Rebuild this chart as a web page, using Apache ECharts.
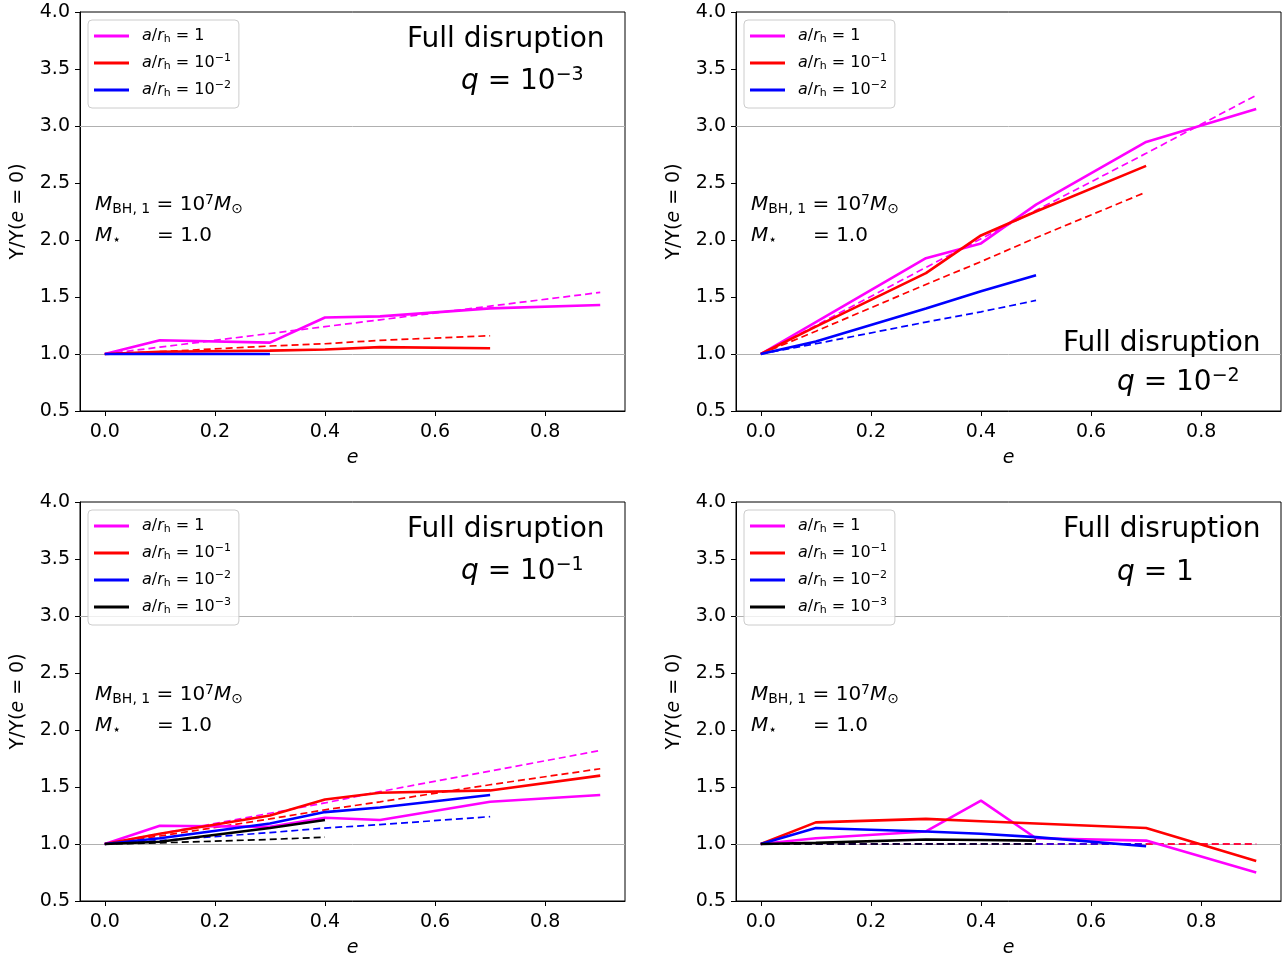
<!DOCTYPE html>
<html>
<head>
<meta charset="utf-8">
<script src="https://cdn.jsdelivr.net/npm/echarts@6/dist/echarts.min.js"></script>
<style>
html,body{margin:0;padding:0;background:#fff;}
#main{width:1288px;height:963px;}
</style>
</head>
<body>
<div id="main"></div>
<script>
// ---------- DATA ----------
var eVals = [0.0, 0.1, 0.3, 0.4, 0.5, 0.7, 0.9];
var xTicks = [0.0, 0.2, 0.4, 0.6, 0.8];
var refLines = [1.0, 3.0];
var rhNames = ['a/r_h = 1', 'a/r_h = 10^-1', 'a/r_h = 10^-2', 'a/r_h = 10^-3'];
var qLabels = ['10^-3', '10^-2', '10^-1', '1'];

// panel 1: q = 1e-3
var q3Solid1 = [1.00, 1.12, 1.10, 1.32, 1.33, 1.40, 1.43];
var q3Solid2 = [1.00, 1.02, 1.03, 1.04, 1.06, 1.05];
var q3Solid3 = [1.00, 1.00, 1.00];
var q3Dash1  = [1.00, 1.06, 1.18, 1.24, 1.30, 1.42, 1.54];
var q3Dash2  = [1.00, 1.02, 1.07, 1.09, 1.12, 1.16];
var q3Dash3  = [1.00, 1.00, 1.00];

// panel 2: q = 1e-2
var q2Solid1 = [1.00, 1.28, 1.84, 1.97, 2.31, 2.86, 3.15];
var q2Solid2 = [1.00, 1.24, 1.71, 2.04, 2.25, 2.65];
var q2Solid3 = [1.00, 1.11, 1.40, 1.55, 1.69];
var q2Dash1  = [1.00, 1.25, 1.76, 2.01, 2.26, 2.76, 3.27];
var q2Dash2  = [1.00, 1.20, 1.61, 1.81, 2.02, 2.42];
var q2Dash3  = [1.00, 1.09, 1.28, 1.37, 1.47];

// panel 3: q = 1e-1
var q1Solid1 = [1.00, 1.16, 1.15, 1.23, 1.21, 1.37, 1.43];
var q1Solid2 = [1.00, 1.09, 1.25, 1.39, 1.45, 1.47, 1.60];
var q1Solid3 = [1.00, 1.05, 1.18, 1.28, 1.32, 1.43];
var q1Solid4 = [1.00, 1.02, 1.14, 1.21];
var q1Dash1  = [1.00, 1.09, 1.27, 1.36, 1.46, 1.64, 1.82];
var q1Dash2  = [1.00, 1.07, 1.22, 1.30, 1.37, 1.52, 1.66];
var q1Dash3  = [1.00, 1.03, 1.10, 1.14, 1.17, 1.24];
var q1Dash4  = [1.00, 1.01, 1.04, 1.06];

// panel 4: q = 1
var q0Solid1 = [1.00, 1.05, 1.11, 1.38, 1.05, 1.03, 0.75];
var q0Solid2 = [1.00, 1.19, 1.22, 1.20, 1.18, 1.14, 0.85];
var q0Solid3 = [1.00, 1.14, 1.11, 1.09, 1.06, 0.98];
var q0Solid4 = [1.00, 1.01, 1.04, 1.035, 1.03];
var q0Dash1  = [1.00, 1.00, 1.00, 1.00, 1.00, 1.00, 1.00];
var q0Dash2  = [1.00, 1.00, 1.00, 1.00, 1.00, 1.00, 1.00];
var q0Dash3  = [1.00, 1.00, 1.00, 1.00, 1.00, 1.00];
var q0Dash4  = [1.00, 1.00, 1.00, 1.00, 1.00];

// ---------- STYLE / LAYOUT ----------
var FONT = 'DejaVu Sans';
var colors = ['#ff00ff', '#ff0000', '#0000ff', '#000000'];
var grids = [
  {left: 80,  top: 12,  width: 545, height: 399},
  {left: 736, top: 12,  width: 545, height: 399},
  {left: 80,  top: 502, width: 545, height: 399},
  {left: 736, top: 502, width: 545, height: 399}
];
var panels = [
  {solid: [q3Solid1, q3Solid2, q3Solid3], dash: [q3Dash1, q3Dash2, q3Dash3]},
  {solid: [q2Solid1, q2Solid2, q2Solid3], dash: [q2Dash1, q2Dash2, q2Dash3]},
  {solid: [q1Solid1, q1Solid2, q1Solid3, q1Solid4], dash: [q1Dash1, q1Dash2, q1Dash3, q1Dash4]},
  {solid: [q0Solid1, q0Solid2, q0Solid3, q0Solid4], dash: [q0Dash1, q0Dash2, q0Dash3, q0Dash4]}
];

var legendRich = {
  pad: {width: 8},
  i: {fontFamily: FONT, fontStyle: 'italic', fontSize: 16, color: '#000'},
  n: {fontFamily: FONT, fontSize: 16, color: '#000'},
  sb: {fontFamily: FONT, fontSize: 11, color: '#000', padding: [7, 0, 0, 0]},
  sp: {fontFamily: FONT, fontSize: 11, color: '#000', padding: [0, 0, 9, 0]}
};
var legendText = {
  'a/r_h = 1':     '{pad|}{i|a}{n|/}{i|r}{sb|h}{n| = 1}',
  'a/r_h = 10^-1': '{pad|}{i|a}{n|/}{i|r}{sb|h}{n| = 10}{sp|\u22121}',
  'a/r_h = 10^-2': '{pad|}{i|a}{n|/}{i|r}{sb|h}{n| = 10}{sp|\u22122}',
  'a/r_h = 10^-3': '{pad|}{i|a}{n|/}{i|r}{sb|h}{n| = 10}{sp|\u22123}'
};

var xAxes = [], yAxes = [], series = [], legends = [], graphics = [];

grids.forEach(function (g, p) {
  xAxes.push({
    type: 'value', gridIndex: p, min: -0.045, max: 0.945,
    name: '{i|e}', nameLocation: 'middle', nameGap: 38,
    nameTextStyle: {fontFamily: FONT, fontSize: 19, color: '#000',
      rich: {i: {fontFamily: FONT, fontStyle: 'italic', fontSize: 19, color: '#000'}}},
    axisLine: {show: true, onZero: false, lineStyle: {color: '#000', width: 1}},
    axisTick: {show: true, length: 5, inside: false, customValues: xTicks, lineStyle: {color: '#000'}},
    axisLabel: {show: true, customValues: xTicks, margin: 12, fontFamily: FONT, fontSize: 19, color: '#000',
      formatter: function (v) { return v.toFixed(1); }},
    splitLine: {show: false}
  });
  yAxes.push({
    type: 'value', gridIndex: p, min: 0.5, max: 4.0, interval: 0.5,
    name: 'Y/Y({i|e} = 0)', nameLocation: 'middle', nameGap: 52,
    nameTextStyle: {fontFamily: FONT, fontSize: 19, color: '#000',
      rich: {i: {fontFamily: FONT, fontStyle: 'italic', fontSize: 19, color: '#000'}}},
    axisLine: {show: true, onZero: false, lineStyle: {color: '#000', width: 1}},
    axisTick: {show: true, length: 5, inside: false, lineStyle: {color: '#000'}},
    axisLabel: {show: true, margin: 10, fontFamily: FONT, fontSize: 19, color: '#000',
      formatter: function (v) { return v.toFixed(1); }},
    splitLine: {show: false}
  });

  var pd = panels[p];
  var n = pd.solid.length;
  for (var k = 0; k < n; k++) {
    (function (k) {
      var solidY = pd.solid[k], dashY = pd.dash[k];
      series.push({
        type: 'line', name: rhNames[k], xAxisIndex: p, yAxisIndex: p,
        data: solidY.map(function (v, i) { return [eVals[i], v]; }),
        symbol: 'none', showSymbol: false, animation: false, z: 3,
        lineStyle: {color: colors[k], width: 2.6}, itemStyle: {color: colors[k]},
        markLine: k === 0 ? {
          silent: true, symbol: 'none', z: 1, animation: false,
          label: {show: false},
          lineStyle: {color: '#b0b0b0', width: 1, type: 'solid'},
          data: refLines.map(function (v) { return {yAxis: v}; })
        } : undefined
      });
      series.push({
        type: 'line', name: rhNames[k] + ' (dashed)', xAxisIndex: p, yAxisIndex: p,
        data: dashY.map(function (v, i) { return [eVals[i], v]; }),
        symbol: 'none', showSymbol: false, animation: false, z: 2,
        lineStyle: {color: colors[k], width: 1.7, type: [7, 4]}, itemStyle: {color: colors[k]}
      });
    })(k);
  }

  legends.push({
    show: true, orient: 'vertical', left: g.left + 8, top: g.top + 8,
    data: rhNames.slice(0, n), selectedMode: false, icon: 'rect',
    backgroundColor: 'rgba(255,255,255,0.8)', borderColor: '#cccccc', borderWidth: 1, borderRadius: 4,
    padding: [8, 8, 9, 6], itemWidth: 35, itemHeight: 3, itemGap: 8,
    textStyle: {fontFamily: FONT, fontSize: 16, color: '#000', rich: legendRich},
    formatter: function (name) { return legendText[name]; }
  });
});

// annotation texts
var bigRich = {
  i: {fontFamily: FONT, fontStyle: 'italic', fontSize: 28, fill: '#000'},
  n: {fontFamily: FONT, fontSize: 28, fill: '#000'},
  sp: {fontFamily: FONT, fontSize: 19, fill: '#000', padding: [0, 0, 13, 0]}
};
var smallRich = {
  i: {fontFamily: FONT, fontStyle: 'italic', fontSize: 20, fill: '#000'},
  n: {fontFamily: FONT, fontSize: 20, fill: '#000'},
  sb: {fontFamily: FONT, fontSize: 14, fill: '#000', padding: [8, 0, 0, 0]},
  sp: {fontFamily: FONT, fontSize: 14, fill: '#000', padding: [0, 0, 10, 0]},
  gap: {width: 36}
};
var titlePos = [
  {fx: 407, fy: 43, qx: 461, qy: 88},
  {fx: 1063, fy: 347, qx: 1117, qy: 389},
  {fx: 407, fy: 533, qx: 461, qy: 578},
  {fx: 1063, fy: 533, qx: 1117, qy: 581}
];
grids.forEach(function (g, p) {
  var tp = titlePos[p];
  var ql = qLabels[p];
  var qText = ql === '1' ? '{i|q}{n| = 1}' : '{i|q}{n| = 10}{sp|\u2212' + ql.split('-')[1] + '}';
  graphics.push({type: 'text', left: tp.fx, top: tp.fy - 17, z: 10,
    style: {text: 'Full disruption', font: '28px "DejaVu Sans"', fill: '#000'}});
  graphics.push({type: 'text', left: tp.qx, top: tp.qy - 22, z: 10,
    style: {text: qText, rich: bigRich, font: '28px "DejaVu Sans"', fill: '#000'}});
  graphics.push({type: 'text', left: g.left + 15, top: g.top + 181, z: 10,
    style: {text: '{i|M}{sb|BH, 1}{n| = 10}{sp|7}{i|M}{sb|\u2299}', rich: smallRich, font: '20px "DejaVu Sans"', fill: '#000'}});
  graphics.push({type: 'text', left: g.left + 15, top: g.top + 214, z: 10,
    style: {text: '{i|M}{sb|\u22c6}{gap|}{n|= 1.0}', rich: smallRich, font: '20px "DejaVu Sans"', fill: '#000'}});
});

var chart = echarts.init(document.getElementById('main'), null, {renderer: 'canvas'});
chart.setOption({
  animation: false,
  backgroundColor: '#ffffff',
  grid: grids.map(function (g) {
    return {left: g.left, top: g.top, width: g.width, height: g.height, show: true,
      borderColor: '#000', borderWidth: 1, backgroundColor: 'transparent'};
  }),
  xAxis: xAxes,
  yAxis: yAxes,
  legend: legends,
  series: series,
  graphic: graphics
});
</script>
</body>
</html>
